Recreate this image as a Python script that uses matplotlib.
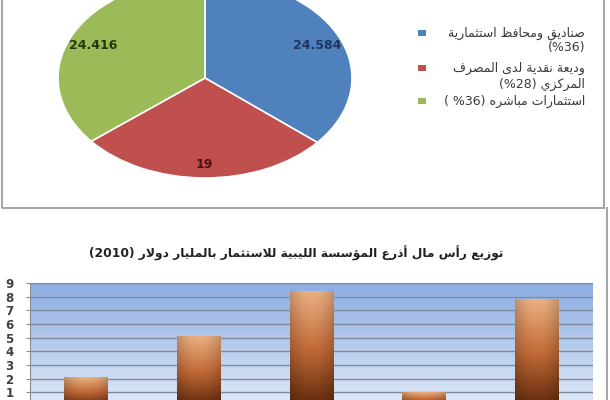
import numpy as np
import matplotlib
matplotlib.use('Agg')
import matplotlib.pyplot as plt
from matplotlib.patches import Rectangle
from matplotlib.lines import Line2D

plt.rcParams['font.family'] = ['DejaVu Sans']

# pie data (top panel)
pie_values = [24.584, 19, 24.416]
pie_labels = ['24.584', '19', '24.416']
pie_colors = ['#4f81bd', '#c0504d', '#9bbb59']
pie_text_colors = ['#1f3560', '#4a1414', '#26380e']
legend_lines = [('صناديق ومحافظ استثمارية', '(%36)'),
                ('وديعة نقدية لدى المصرف', '(%28) ' + '\x00المركزي'),
                ('استثمارات مباشره', '( %36)')]

# bar data (bottom panel)
bar_values = [2.1, 5.15, 8.45, 1.0, 7.85]
bar_title = 'توزيع رأس مال أذرع المؤسسة الليبية للاستثمار بالمليار دولار'
y_ticks = list(range(1, 10))


# --- very small arabic shaper (matplotlib has no RTL / joining) ---
_codes = list(range(0x621, 0x63B)) + list(range(0x641, 0x64B))
_counts = [1, 2, 2, 2, 2, 4, 2, 4, 2, 4, 4, 4, 4, 4, 2, 2, 2, 2,
           4, 4, 4, 4, 4, 4, 4, 4, 4, 4, 4, 4, 4, 4, 4, 2, 2, 4]
FORMS = {}
_p = 0xFE80
for c, k in zip(_codes, _counts):
    FORMS[chr(c)] = [chr(_p + j) for j in range(k)]
    _p += k
LAM_ALEF = {'\u0622': ('\uFEF5', '\uFEF6'), '\u0623': ('\uFEF7', '\uFEF8'),
            '\u0625': ('\uFEF9', '\uFEFA'), '\u0627': ('\uFEFB', '\uFEFC')}


def ar(s):
    out = []
    i = 0
    n = len(s)
    while i < n:
        c = s[i]
        if c not in FORMS:
            out.append(c)
            i += 1
            continue
        prev = s[i - 1] if i > 0 else ''
        conn_prev = prev in FORMS and len(FORMS[prev]) == 4
        if c == '\u0644' and i + 1 < n and s[i + 1] in LAM_ALEF:
            iso, fin = LAM_ALEF[s[i + 1]]
            out.append(fin if conn_prev else iso)
            i += 2
            continue
        nxt = s[i + 1] if i + 1 < n else ''
        f = FORMS[c]
        conn_next = len(f) == 4 and nxt in FORMS and nxt != '\u0621'
        if len(f) == 1:
            out.append(f[0])
        elif len(f) == 2:
            out.append(f[1] if conn_prev else f[0])
        else:
            if conn_prev and conn_next:
                out.append(f[3])
            elif conn_prev:
                out.append(f[1])
            elif conn_next:
                out.append(f[2])
            else:
                out.append(f[0])
        i += 1
    return ''.join(out)[::-1]


fig = plt.figure(figsize=(6.1, 4), dpi=100)
fig.patch.set_facecolor('white')

# ---------- top panel : pie ----------
ax1 = fig.add_axes([58 / 610, (400 - 178) / 400, 294 / 610, 200 / 400])
wedges, _ = ax1.pie(pie_values, colors=pie_colors, startangle=90, counterclock=False,
                    wedgeprops=dict(edgecolor='white', linewidth=1.2))
ax1.set_aspect('auto')
ax1.set_xlim(-1, 1)
ax1.set_ylim(-1, 1)
for w, lab, tc in zip(wedges, pie_labels, pie_text_colors):
    th = np.deg2rad((w.theta1 + w.theta2) / 2)
    r = 0.84
    ax1.text(r * np.cos(th), r * np.sin(th) - 0.03, lab, ha='center', va='center',
             fontsize=9, fontweight='bold', color=tc)

fig.patches.append(Rectangle((2 / 610, (400 - 208) / 400), 602 / 610, 0.6,
                             transform=fig.transFigure, fill=False,
                             edgecolor='#a6a6a6', linewidth=1.5))

# legend (right-aligned arabic text, square on the left)
leg_y = [(33, 48), (68, 84), (101, None)]
for (t1, t2), (y1, y2), col in zip(legend_lines, leg_y, pie_colors):
    fig.patches.append(Rectangle((418 / 610, 1 - (y1 + 3) / 400), 8 / 610, 6 / 400,
                                 transform=fig.transFigure, facecolor=col, edgecolor='none'))
    if y2 is None:
        fig.text(585 / 610, 1 - y1 / 400, t2 + ' ' + ar(t1), ha='right', va='center',
                 fontsize=9, color='#3a3a3a')
    else:
        fig.text(585 / 610, 1 - y1 / 400, ar(t1), ha='right', va='center',
                 fontsize=9, color='#3a3a3a')
        if '\x00' in t2:
            a, b = t2.split('\x00')
            t2 = a + ar(b)
        fig.text(585 / 610, 1 - y2 / 400, t2, ha='right', va='center',
                 fontsize=9, color='#3a3a3a')

# ---------- bottom panel : bars ----------
fig.add_artist(Line2D([607 / 610, 607 / 610], [0, (400 - 208) / 400],
                      transform=fig.transFigure, color='#a6a6a6', linewidth=1.5))

fig.text(296 / 610, 1 - 253 / 400, '(2010) ' + ar(bar_title), ha='center', va='center',
         fontsize=8.8, fontweight='bold', color='#222222')

ax2 = fig.add_axes([30 / 610, -6 / 400, 563 / 610, 123 / 400])
x = np.arange(len(bar_values))
ax2.set_xlim(-0.5, len(bar_values) - 0.5)
ax2.set_ylim(0, 9)

# blue gradient background
top_c = np.array([140, 174, 226]) / 255
bot_c = np.array([224, 233, 247]) / 255
t = np.linspace(0, 1, 200)[:, None]
bg = (bot_c * (1 - t) + top_c * t)[:, None, :]
ax2.imshow(bg, extent=[-0.5, len(bar_values) - 0.5, 0, 9], aspect='auto',
           origin='lower', zorder=0)

ax2.set_yticks(y_ticks)
ax2.yaxis.grid(True, color='#7d8aa0', linewidth=1)
ax2.set_axisbelow(True)
ax2.set_xticks([])
for s in ['top', 'right', 'bottom']:
    ax2.spines[s].set_visible(False)
ax2.spines['left'].set_color('#8c8c8c')
ax2.tick_params(axis='y', length=3, color='#8c8c8c', labelsize=8.5, labelcolor='#404040', pad=9)
for lb in ax2.get_yticklabels():
    lb.set_fontweight('bold')

bars = ax2.bar(x, bar_values, width=0.39, color='none', edgecolor='none', zorder=3)

# copper gradient for every bar
light = np.array([236, 178, 132]) / 255
mid = np.array([196, 108, 56]) / 255
dark = np.array([98, 42, 12]) / 255
tv = np.linspace(0, 1, 100)[:, None]
col = np.where(tv < 0.5, dark * (1 - tv / 0.5) + mid * (tv / 0.5),
               mid * (1 - (tv - 0.5) / 0.5) + light * ((tv - 0.5) / 0.5))
hx = np.linspace(-1, 1, 40)
shade = 1 - 0.18 * hx ** 2
grad = np.clip(col[:, None, :] * shade[None, :, None], 0, 1)
for b in bars:
    im = ax2.imshow(grad, extent=[b.get_x(), b.get_x() + b.get_width(), 0, b.get_height()],
                    aspect='auto', origin='lower', zorder=3)
    im.set_clip_path(b)
ax2.set_xlim(-0.5, len(bar_values) - 0.5)
ax2.set_ylim(0, 9)

fig.savefig('out.png', dpi=100)
